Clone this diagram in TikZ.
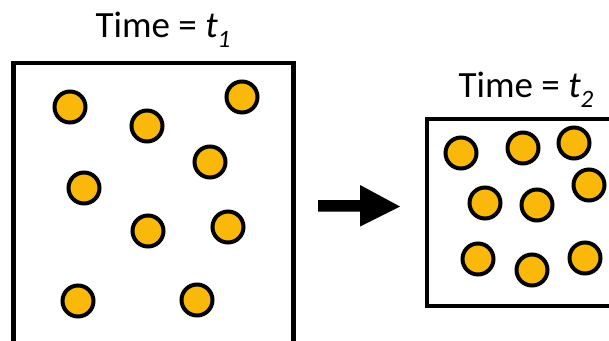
\documentclass[tikz,border=0pt]{standalone}
\usepackage{fontspec}
\setmainfont{Carlito}
\definecolor{ballfill}{RGB}{250,185,10}
\tikzset{
  ball/.style={circle, draw=black, fill=ballfill, line width=4pt, minimum size=31pt, inner sep=0pt},
  frame/.style={draw=black, line width=4.5pt},
  title/.style={anchor=base, inner sep=0pt, font=\fontsize{37}{42}\selectfont},
}
\newcommand{\subsc}[1]{\raisebox{-0.28em}{\fontsize{25}{25}\selectfont\itshape #1}}
\begin{document}
\begin{tikzpicture}[x=1pt,y=-1pt]
\useasboundingbox (0,0) rectangle (609,340);
\fill[white] (0,0) rectangle (609,340);
% boxes
\draw[frame] (13.5,350) -- (13.5,63) -- (293.5,63) -- (293.5,350);
\draw[frame] (620,119) -- (427,119) -- (427,306) -- (620,306);
% titles
\node[title] (t1) at (163,37) {Time = \textit{t}\subsc{1}};
\node[title] (t2) at (526,97) {Time = \textit{t}\subsc{2}};
% arrow
\coordinate (aL) at (318,206.5);
\coordinate (aR) at (400,206.5);
\fill[black] (aL) ++(0,-6.5) -- ++(42,0) -- ++(0,-15) -- (aR) -- ++(-40,20) -- ++(0,-15) -- ++(-42,0) -- cycle;
% left balls
\node[ball] (l1) at (70,107) {};
\node[ball] (l2) at (147,126) {};
\node[ball] (l3) at (242,97) {};
\node[ball] (l4) at (210,162) {};
\node[ball] (l5) at (84,188) {};
\node[ball] (l6) at (148,231) {};
\node[ball] (l7) at (228,227) {};
\node[ball] (l8) at (78,301) {};
\node[ball] (l9) at (197,300) {};
% right balls
\node[ball] (r1) at (461,153) {};
\node[ball] (r2) at (523,148) {};
\node[ball] (r3) at (574,143) {};
\node[ball] (r4) at (589,185) {};
\node[ball] (r5) at (485,203) {};
\node[ball] (r6) at (537,205) {};
\node[ball] (r7) at (478,259) {};
\node[ball] (r8) at (532,270) {};
\node[ball] (r9) at (585,258) {};
\end{tikzpicture}
\end{document}
